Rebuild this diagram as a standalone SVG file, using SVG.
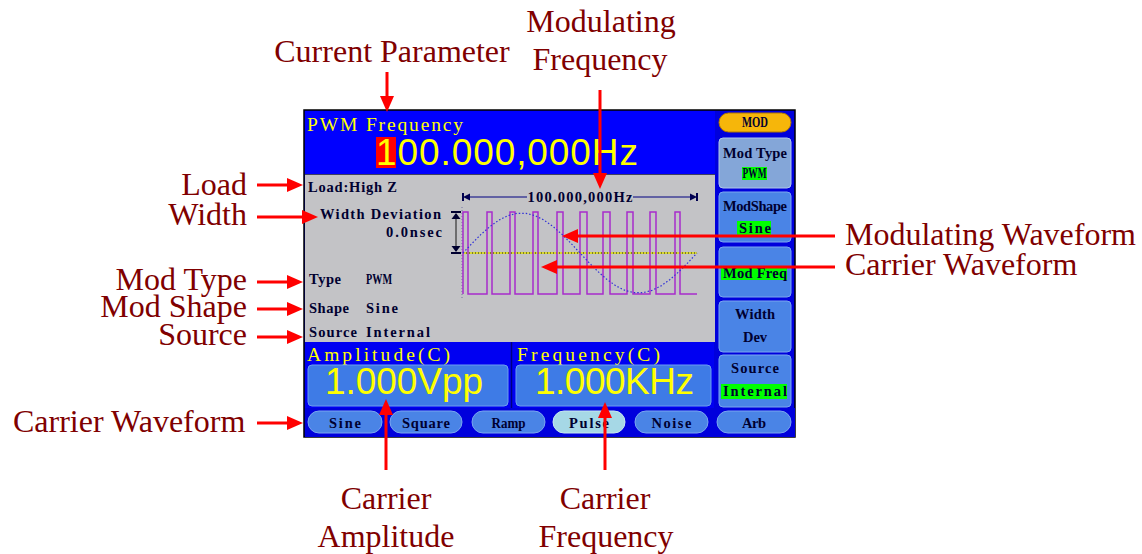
<svg xmlns="http://www.w3.org/2000/svg" width="1142" height="554" viewBox="0 0 1142 554">
<defs>
<style>
.lbl{font-family:"Liberation Serif","Times New Roman",serif;font-size:32px;fill:#800000}
.arw{stroke:#FF0000;stroke-width:3;fill:none;marker-end:url(#ah)}
.mono{font-family:"Liberation Serif","Times New Roman",serif;font-size:14.5px;font-weight:bold;fill:#000030}
.ylw{font-family:"Liberation Serif","Times New Roman",serif;font-size:19.5px;fill:#FFFF00}
.big{font-family:"Liberation Sans",Arial,sans-serif;font-size:37px;fill:#FFFF00}
.btn{fill:#4A84E6;stroke:#7AA6F0;stroke-width:1}
.tab{fill:#4A84E6;stroke:#7AA6F0;stroke-width:1}
.hl{fill:#00FF00}
.mid{text-anchor:middle}
</style>
<marker id="ah" viewBox="0 0 16 14" refX="6" refY="7" markerWidth="16" markerHeight="14" markerUnits="userSpaceOnUse" orient="auto">
<path d="M0,0 L16,7 L0,14 z" fill="#FF0000"/>
</marker>
</defs>
<rect width="1142" height="554" fill="#FFFFFF"/>

<g id="screen">
<rect x="304" y="110" width="491" height="327" fill="#0000DC" stroke="#000000" stroke-width="1.5"/>
<rect x="305" y="111" width="410" height="63" fill="#0000FF"/>
<rect x="305" y="174" width="410" height="168" fill="#C3C3C6"/>
<line x1="305" y1="174.5" x2="715" y2="174.5" stroke="#404060" stroke-width="1"/>
<rect x="305" y="342" width="206" height="66" fill="#0000F2"/>
<rect x="512" y="342" width="202" height="66" fill="#0000F2"/>
<line x1="511.5" y1="342" x2="511.5" y2="408" stroke="#000080" stroke-width="1.5"/>
<rect x="305" y="408" width="490" height="29" fill="#0000DC"/>
</g>

<g id="current-parameter-display">
<text class="ylw" x="307" y="131" textLength="156" lengthAdjust="spacing">PWM Frequency</text>
<rect x="376" y="137" width="20" height="31" fill="#FF0000"/>
<text class="big" x="376" y="165" textLength="262" lengthAdjust="spacing">100.000,000Hz</text>
</g>

<g id="info-panel">
<text class="mono" x="308" y="192" textLength="89" lengthAdjust="spacing">Load:High Z</text>
<text class="mono" x="320" y="219" textLength="121" lengthAdjust="spacing">Width Deviation</text>
<text class="mono" x="386" y="237" textLength="56" lengthAdjust="spacing">0.0nsec</text>
<text class="mono" x="309" y="284" textLength="32" lengthAdjust="spacing">Type</text>
<text class="mono" x="366" y="284" textLength="26" lengthAdjust="spacingAndGlyphs">PWM</text>
<text class="mono" x="309" y="313" textLength="40" lengthAdjust="spacing">Shape</text>
<text class="mono" x="366" y="313" textLength="32" lengthAdjust="spacing">Sine</text>
<text class="mono" x="309" y="337" textLength="48" lengthAdjust="spacing">Source</text>
<text class="mono" x="366" y="337" textLength="64" lengthAdjust="spacing">Internal</text>
</g>

<g id="waveform-view">
<line x1="463" y1="193" x2="463" y2="201" stroke="#000050" stroke-width="2"/>
<path d="M463,197 L470,193.5 L470,200.5 z" fill="#000050"/>
<line x1="697" y1="193" x2="697" y2="201" stroke="#000050" stroke-width="2"/>
<path d="M697,197 L690,193.5 L690,200.5 z" fill="#000050"/>
<line x1="469" y1="197" x2="527" y2="197" stroke="#000080" stroke-width="1"/>
<line x1="633" y1="197" x2="691" y2="197" stroke="#000080" stroke-width="1"/>
<text class="mono mid" x="580" y="202" textLength="105" lengthAdjust="spacing">100.000,000Hz</text>
<line x1="456" y1="214" x2="456" y2="251" stroke="#505050" stroke-width="1.5"/>
<line x1="451" y1="212" x2="461" y2="212" stroke="#000030" stroke-width="2"/>
<path d="M456,213 L451.5,219 L460.5,219 z" fill="#000030"/>
<line x1="451" y1="253" x2="461" y2="253" stroke="#000030" stroke-width="2"/>
<path d="M456,252 L451.5,246 L460.5,246 z" fill="#000030"/>
<line x1="462" y1="207" x2="462" y2="299" stroke="#7070A0" stroke-width="1" stroke-dasharray="1,2"/>
<line x1="463" y1="253" x2="697" y2="253" stroke="#E0E000" stroke-width="1.5"/>
<line x1="463" y1="253" x2="697" y2="253" stroke="#202020" stroke-width="1" stroke-dasharray="1,2"/>
<path d="M463,294 V212 H468 V294 H487 V212 H492 V294 H510 V212 H515 V294 H533 V212 H538 V294 H557 V212 H563 V294 H580 V212 H587 V294 H603 V212 H610 V294 H627 V212 H633 V294 H650 V212 H656 V294 H675 V212 H680 V294 H697" fill="none" stroke="#A82CCB" stroke-width="1.5"/>
<polyline points="463,253 472,243.4 481,234.4 490,226.5 499,220.1 508,215.6 517,213.3 526,213.3 535,215.6 544,220.1 553,226.5 562,234.4 571,243.4 580,253 589,262.6 598,271.6 607,279.5 616,285.9 625,290.4 634,292.7 643,292.7 652,290.4 661,285.9 670,279.5 679,271.6 688,262.6 697,253" fill="none" stroke="#3030D8" stroke-width="1.2" stroke-dasharray="1.5,2"/>
</g>

<g id="amplitude-panel">
<text class="ylw" x="307" y="361" textLength="143" lengthAdjust="spacing">Amplitude(C)</text>
<rect x="308" y="365" width="200" height="41" rx="4" fill="#3E7BE6" stroke="#6D9DF0" stroke-width="1"/>
<text class="big" x="325" y="394" textLength="158" lengthAdjust="spacing">1.000Vpp</text>
</g>

<g id="frequency-panel">
<text class="ylw" x="517" y="361" textLength="143" lengthAdjust="spacing">Frequency(C)</text>
<rect x="516" y="365" width="195" height="41" rx="4" fill="#3E7BE6" stroke="#6D9DF0" stroke-width="1"/>
<text class="big" x="535" y="394" textLength="159" lengthAdjust="spacing">1.000KHz</text>
</g>

<g id="softkeys">
<rect x="719" y="113" width="72" height="19" rx="9.5" fill="#F6B60A" stroke="#B07800" stroke-width="1"/>
<text class="mono mid" x="755" y="127" textLength="26" lengthAdjust="spacingAndGlyphs">MOD</text>
<rect x="719" y="138" width="72" height="50" rx="4" fill="#84A6D8" stroke="#AFC6EC" stroke-width="1"/>
<text class="mono mid" x="755" y="158" textLength="64" lengthAdjust="spacing">Mod Type</text>
<rect class="hl" x="742" y="167" width="25" height="13"/>
<text class="mono mid" x="754.5" y="178" textLength="24" lengthAdjust="spacingAndGlyphs">PWM</text>
<rect class="btn" x="719" y="192" width="72" height="50" rx="4"/>
<text class="mono mid" x="755" y="211" textLength="64" lengthAdjust="spacing">ModShape</text>
<rect class="hl" x="737" y="221" width="34" height="14"/>
<text class="mono mid" x="755" y="233" textLength="32" lengthAdjust="spacing">Sine</text>
<rect class="btn" x="719" y="247" width="72" height="50" rx="4"/>
<rect class="hl" x="721" y="267" width="66" height="13"/>
<text class="mono mid" x="755" y="278" textLength="64" lengthAdjust="spacing">Mod Freq</text>
<rect class="btn" x="719" y="301" width="72" height="51" rx="4"/>
<text class="mono mid" x="755" y="319" textLength="40" lengthAdjust="spacing">Width</text>
<text class="mono mid" x="755" y="342" textLength="24" lengthAdjust="spacing">Dev</text>
<rect class="btn" x="719" y="355" width="72" height="52" rx="4"/>
<text class="mono mid" x="755" y="373" textLength="48" lengthAdjust="spacing">Source</text>
<rect class="hl" x="721" y="384" width="66" height="15"/>
<text class="mono mid" x="755" y="396" textLength="64" lengthAdjust="spacing">Internal</text>
</g>

<g id="waveform-tabs">
<rect class="tab" x="308" y="411" width="74" height="22" rx="11"/>
<text class="mono mid" x="345" y="428" textLength="32" lengthAdjust="spacing">Sine</text>
<rect class="tab" x="390" y="411" width="72" height="22" rx="11"/>
<text class="mono mid" x="426" y="428" textLength="48" lengthAdjust="spacing">Square</text>
<rect class="tab" x="472" y="411" width="73" height="22" rx="11"/>
<text class="mono mid" x="508.5" y="428" textLength="34" lengthAdjust="spacingAndGlyphs">Ramp</text>
<rect x="553" y="411" width="72" height="22" rx="11" fill="#A6D8E6" stroke="#C8E8F0" stroke-width="1"/>
<text class="mono mid" x="589" y="428" textLength="40" lengthAdjust="spacing">Pulse</text>
<rect class="tab" x="635" y="411" width="73" height="22" rx="11"/>
<text class="mono mid" x="671.5" y="428" textLength="40" lengthAdjust="spacing">Noise</text>
<rect class="tab" x="717" y="411" width="74" height="22" rx="11"/>
<text class="mono mid" x="754" y="428" textLength="24" lengthAdjust="spacing">Arb</text>
</g>

<g id="label-current-parameter"><text class="lbl mid" x="392" y="62">Current Parameter</text></g>
<g id="label-modulating-frequency"><text class="lbl mid" x="601" y="32">Modulating</text><text class="lbl mid" x="600" y="70">Frequency</text></g>
<g id="label-load"><text class="lbl" x="247" y="195" text-anchor="end">Load</text></g>
<g id="label-width"><text class="lbl" x="247" y="225" text-anchor="end">Width</text></g>
<g id="label-mod-type"><text class="lbl" x="247" y="290" text-anchor="end">Mod Type</text></g>
<g id="label-mod-shape"><text class="lbl" x="247" y="317" text-anchor="end">Mod Shape</text></g>
<g id="label-source"><text class="lbl" x="247" y="345" text-anchor="end">Source</text></g>
<g id="label-carrier-waveform-left"><text class="lbl" x="13" y="432">Carrier Waveform</text></g>
<g id="label-modulating-waveform"><text class="lbl" x="845" y="245">Modulating Waveform</text></g>
<g id="label-carrier-waveform-right"><text class="lbl" x="845" y="275">Carrier Waveform</text></g>
<g id="label-carrier-amplitude"><text class="lbl mid" x="386" y="509">Carrier</text><text class="lbl mid" x="386" y="547">Amplitude</text></g>
<g id="label-carrier-frequency"><text class="lbl mid" x="605" y="509">Carrier</text><text class="lbl mid" x="606" y="547">Frequency</text></g>

<g id="connectors">
<line class="arw" x1="387" y1="72" x2="387" y2="102"/>
<line class="arw" x1="600" y1="90" x2="600" y2="179"/>
<line class="arw" x1="257" y1="185" x2="293" y2="185"/>
<line class="arw" x1="257" y1="217" x2="308" y2="217"/>
<line class="arw" x1="257" y1="282" x2="293" y2="282"/>
<line class="arw" x1="257" y1="309" x2="293" y2="309"/>
<line class="arw" x1="257" y1="337" x2="293" y2="337"/>
<line class="arw" x1="257" y1="423" x2="293" y2="423"/>
<line class="arw" x1="835" y1="236" x2="572" y2="236"/>
<line class="arw" x1="835" y1="267" x2="551" y2="267"/>
<line class="arw" x1="386" y1="470" x2="386" y2="409"/>
<line class="arw" x1="605" y1="470" x2="605" y2="412"/>
</g>
</svg>
